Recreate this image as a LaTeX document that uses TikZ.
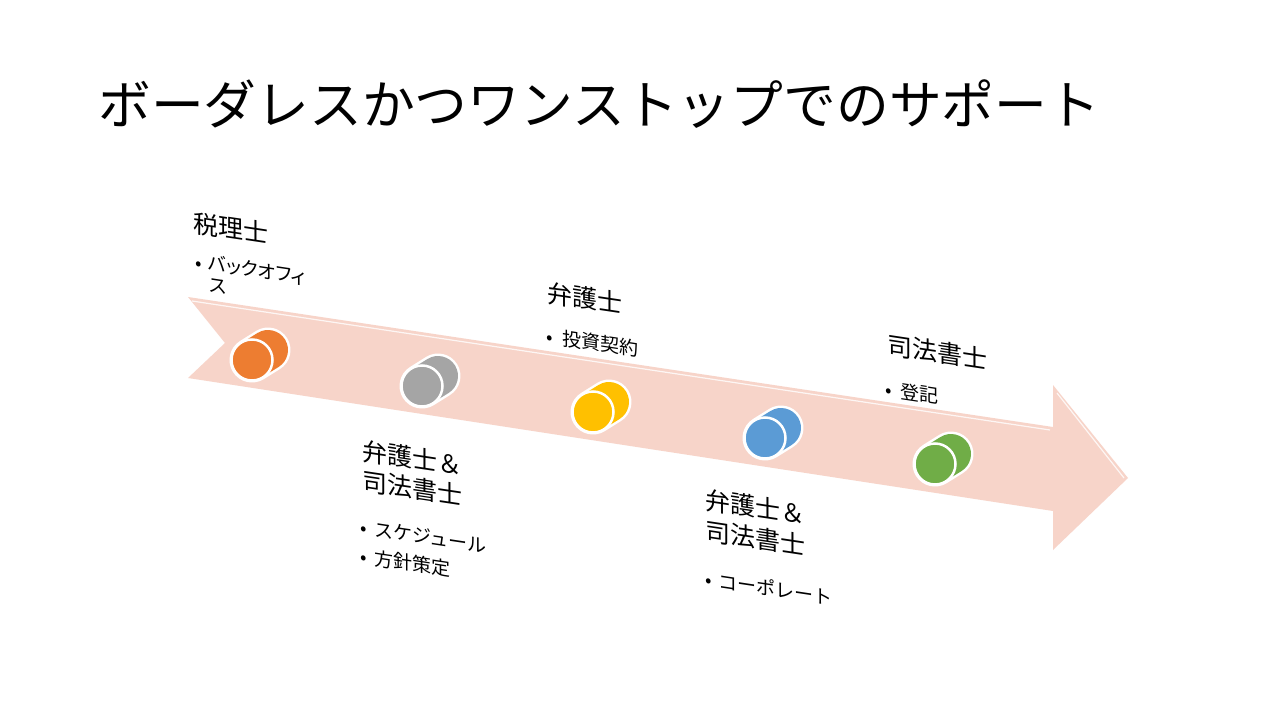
\documentclass[tikz,border=0pt]{standalone}
\usepackage{fontspec}
\setmainfont{Noto Sans CJK JP}
\newcommand\ttlfont{\fontsize{52.8pt}{60pt}\selectfont}
\newcommand\hdfont{\fontsize{25pt}{30pt}\selectfont}
\newcommand\blfont{\fontsize{19pt}{21pt}\selectfont}
% slanted text line: name, x, y (baseline at left), font, text
\newcommand\slanttext[5]{%
  \begin{scope}[shift={(#2,#3)}, yslant=-0.15]
    \node[txt, font=#4, transform shape] (#1) at (0,0) {#5};
  \end{scope}}
% cylinder marker: name, x, y of front circle, colour
\newcommand\drawcyl[4]{%
  \coordinate (#1f) at (#2,#3);
  \coordinate (#1b) at ($(#1f)+(16,-10)$);
  \draw[white, line width=45pt, line cap=round] (#1f) -- (#1b);
  \draw[#4, line width=40pt, line cap=round] (#1f) -- (#1b);
  \node[marker, fill=#4] (#1) at (#1f) {};}
\usetikzlibrary{calc}
\definecolor{arrowpink}{HTML}{F7D4C9}
\definecolor{morange}{HTML}{ED7D31}
\definecolor{mgray}{HTML}{A5A5A5}
\definecolor{myellow}{HTML}{FFC000}
\definecolor{mblue}{HTML}{5B9BD5}
\definecolor{mgreen}{HTML}{70AD47}
\begin{document}
\begin{tikzpicture}[x=1pt, y=-1pt,
  txt/.style={anchor=base west, inner sep=0pt, text=black},
  marker/.style={circle, draw=white, line width=2.5pt, minimum size=41pt, inner sep=0pt}]
\useasboundingbox[fill=white] (0,0) rectangle (1280,720);
% title
\node[txt, font=\ttlfont] (title) at (98,124) {ボーダレスかつワンストップでのサポート};
% big arrow
\fill[arrowpink] (188,297) -- (1053,427) -- (1053,385) -- (1128,478) -- (1053,550)
  -- (1053,511) -- (188,378) -- (225,343) -- cycle;
\draw[white, line width=1.2pt, opacity=0.8] (192,301) -- (1050,430);
\draw[white, line width=1.2pt, opacity=0.8] (1057,393) -- (1124,478);
% markers
\drawcyl{m1}{252}{360}{morange}
\drawcyl{m2}{422}{386}{mgray}
\drawcyl{m3}{593}{412}{myellow}
\drawcyl{m4}{765}{438}{mblue}
\drawcyl{m5}{935}{464}{mgreen}
% block 1
\slanttext{h1}{193}{232}{\hdfont}{税理士}
\slanttext{d1}{195}{269}{\blfont}{•}
\begin{scope}[shift={(208,291)}, yslant=-0.15]
  \node[txt, font=\blfont, transform shape, align=left] (b1)
    at (0,0) {\addfontfeatures{RawFeature=+palt}バックオフィ\\ス};
\end{scope}
% block 2
\slanttext{h2a}{362}{460}{\hdfont}{弁護士＆}
\slanttext{h2b}{362}{490}{\hdfont}{司法書士}
\slanttext{d2a}{360}{534}{\blfont}{•}
\slanttext{b2a}{374}{536}{\blfont}{スケジュール}
\slanttext{d2b}{360}{563}{\blfont}{•}
\slanttext{b2b}{374}{565}{\blfont}{方針策定}
% block 3
\slanttext{h3}{547}{302}{\hdfont}{弁護士}
\slanttext{d3}{546}{343}{\blfont}{•}
\slanttext{b3}{562}{345}{\blfont}{投資契約}
% block 4
\slanttext{h4a}{705}{509}{\hdfont}{弁護士＆}
\slanttext{h4b}{705}{540}{\hdfont}{司法書士}
\slanttext{d4}{705}{586}{\blfont}{•}
\slanttext{b4}{718}{588}{\blfont}{コーポレート}
% block 5
\slanttext{h5}{887}{354}{\hdfont}{司法書士}
\slanttext{d5}{885}{396}{\blfont}{•}
\slanttext{b5}{900}{398}{\blfont}{登記}
\end{tikzpicture}
\end{document}
